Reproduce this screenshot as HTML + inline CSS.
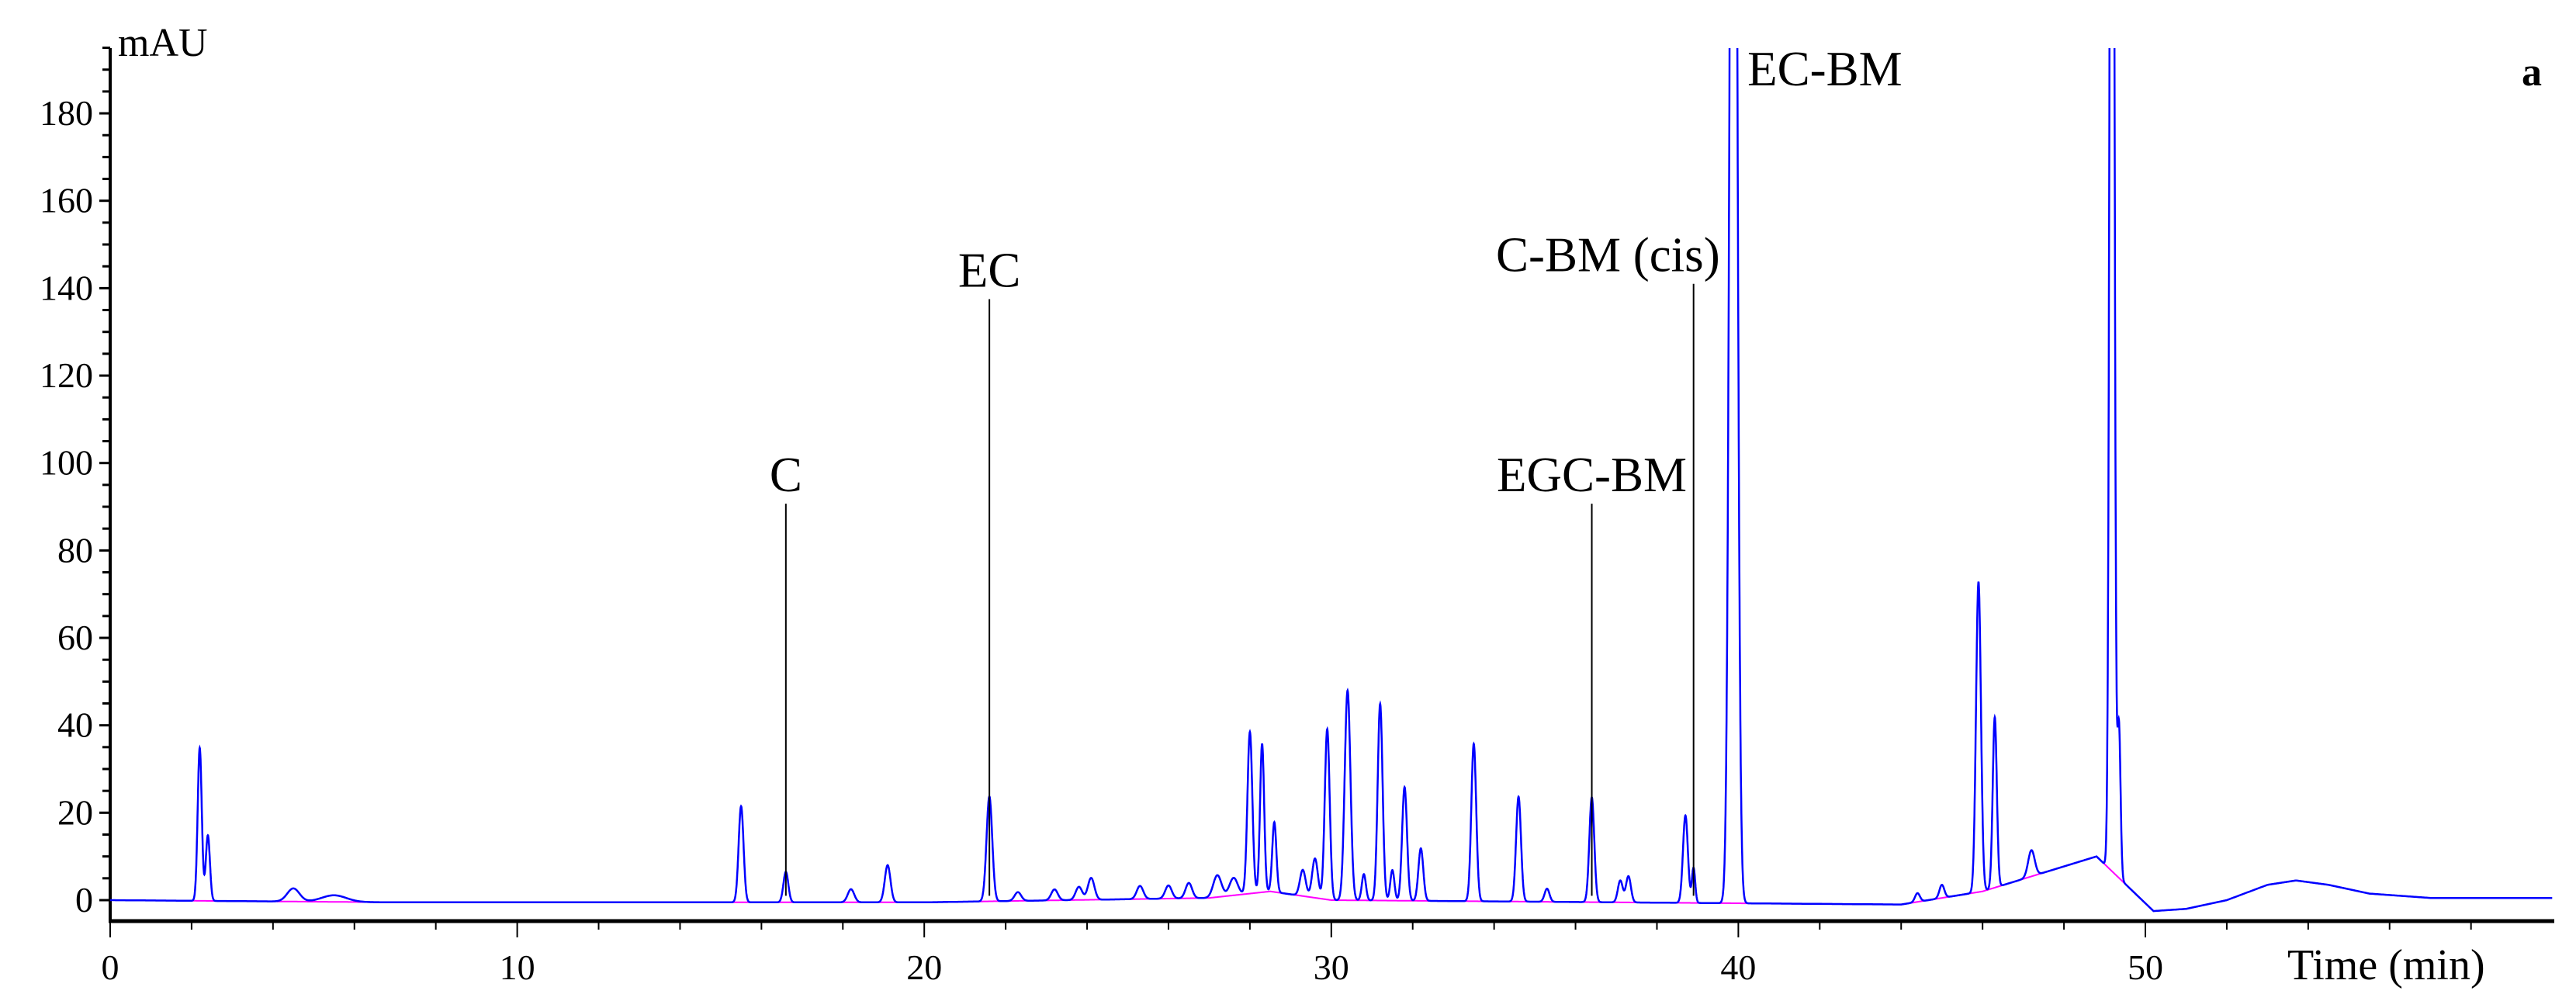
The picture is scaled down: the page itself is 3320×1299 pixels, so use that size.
<!DOCTYPE html>
<html><head><meta charset="utf-8"><style>
html,body{margin:0;padding:0;background:#fff;}
svg{display:block;font-family:"Liberation Serif",serif;}
</style></head><body>
<svg id="chart" width="3320" height="1299" viewBox="0 0 3320 1299" xmlns="http://www.w3.org/2000/svg">
<defs><clipPath id="plotclip"><rect x="142" y="62" width="3150" height="1124"/></clipPath></defs>
<g id="axes"></g>
<g id="series" clip-path="url(#plotclip)"></g>
<g id="annot"></g>
<text x="152" y="72" font-size="52">mAU</text>
<text x="3250" y="110" font-size="52" font-weight="bold">a</text>
<text x="2948" y="1262" font-size="56">Time (min)</text>
</svg>
<script>
const peakTimes   = [2.2,2.4,4.5,5.5,15.5,16.6,18.2,19.1,21.6,22.3,23.2,23.8,24.1,25.3,26.0,26.5,27.2,27.6,28.0,28.3,28.6,29.3,29.6,29.9,30.4,30.8,31.2,31.5,31.8,32.2,33.5,34.6,35.3,36.4,37.1,37.3,38.7,38.9,39.88,44.4,45.0,45.9,46.3,47.2,49.18,49.35];
const peakHeights = [35,15,3,1.5,22,7,3,8.5,24,2,2.5,3,5,3,3,3.5,5,4,37,34,16,6,9,39,48,6,45,7,26,12,36,24,3,24,5,6,20,8,400,2,3,71,39,6,400,35];
const peakWidths  = [0.05,0.05,0.15,0.3,0.06,0.06,0.08,0.07,0.07,0.08,0.08,0.08,0.08,0.08,0.08,0.08,0.1,0.1,0.06,0.05,0.05,0.07,0.07,0.06,0.07,0.05,0.06,0.05,0.06,0.06,0.06,0.06,0.06,0.06,0.06,0.06,0.06,0.04,0.08,0.06,0.06,0.06,0.05,0.08,0.05,0.04];
const baseTimes   = [0,7,20,27,28.5,30,44,46,48.8,50.2,51,52,53,53.7,54.5,55.5,57,60];
const baseValues  = [0,-0.5,-0.5,0.5,2,0,-1,2,10,-2.5,-2,0,3.5,4.5,3.5,1.5,0.5,0.5];
const yTicks = [0,20,40,60,80,100,120,140,160,180];
const xTicks = [0,10,20,30,40,50];
const labels = ["C","EC","EGC-BM","C-BM (cis)","EC-BM"];
const labelTimes = [16.6,21.6,36.4,38.9,39.88];
const labelTops = [90.7,137.5,90.7,141,195];

const X0=142, PX_PER_MIN=52.46, Y0=1160, PX_PER_AU=5.633;
const xs = t => X0 + t*PX_PER_MIN;
const ys = v => Y0 - v*PX_PER_AU;
const NS="http://www.w3.org/2000/svg";
function mk(tag, attrs, parent){const e=document.createElementNS(NS,tag);for(const k in attrs)e.setAttribute(k,attrs[k]);parent.appendChild(e);return e;}
function baseAt(t){for(let i=0;i<baseTimes.length-1;i++){if(t>=baseTimes[i]&&t<=baseTimes[i+1]){const f=(t-baseTimes[i])/(baseTimes[i+1]-baseTimes[i]);return baseValues[i]+f*(baseValues[i+1]-baseValues[i]);}}return 0;}

const axes=document.getElementById('axes');
let l=mk('line',{x1:142,y1:62,x2:142,y2:1188,stroke:'#000','stroke-width':4},axes);


l=mk('line',{x1:140,y1:1187,x2:3292,y2:1187,stroke:'#000','stroke-width':5},axes);


for(let v=0;v<=195;v+=5){const major=v%20===0;mk('line',{x1:major?128:132,y1:ys(v),x2:142,y2:ys(v),stroke:'#000','stroke-width':3},axes);}
yTicks.forEach(v=>{const t=mk('text',{x:120,y:ys(v)+15,'font-size':46,'text-anchor':'end'},axes);t.textContent=v;

});
for(let m=0;m<=59;m+=2){const major=m%10===0;mk('line',{x1:xs(m),y1:1187,x2:xs(m),y2:major?1208:1198,stroke:'#000','stroke-width':2},axes);}
xTicks.forEach(v=>{const t=mk('text',{x:xs(v),y:1262,'font-size':46,'text-anchor':'middle'},axes);t.textContent=v;

});

const series=document.getElementById('series');
let pts=[],bpts=[];
for(let t=0;t<=60;t+=0.005){let v=baseAt(t);for(let i=0;i<peakTimes.length;i++){const d=(t-peakTimes[i])/peakWidths[i];if(Math.abs(d)<6)v+=peakHeights[i]*Math.exp(-0.5*d*d);}
pts.push(xs(t).toFixed(1)+','+ys(v).toFixed(1));
if(t>=2&&t<=50.2)bpts.push(xs(t).toFixed(1)+','+ys(baseAt(t)).toFixed(1));}
let p=mk('polyline',{points:bpts.join(' '),fill:'none',stroke:'#ff00ff','stroke-width':2},series);


p=mk('polyline',{points:pts.join(' '),fill:'none',stroke:'#0000ff','stroke-width':2.5},series);



const annot=document.getElementById('annot');
labels.forEach((s,i)=>{const x=xs(labelTimes[i]);const top=ys(labelTops[i]);
if(i<4){const ln=mk('line',{x1:x,y1:top,x2:x,y2:ys(1),stroke:'#000','stroke-width':2},annot);

}
const tx=mk('text',{x:i===4?x+18:(i===3?x+34:x),y:i===4?110:top-16,'font-size':63,'text-anchor':i===4?'start':(i===3?'end':'middle')},annot);
tx.textContent=s;

});
</script>
</body></html>
